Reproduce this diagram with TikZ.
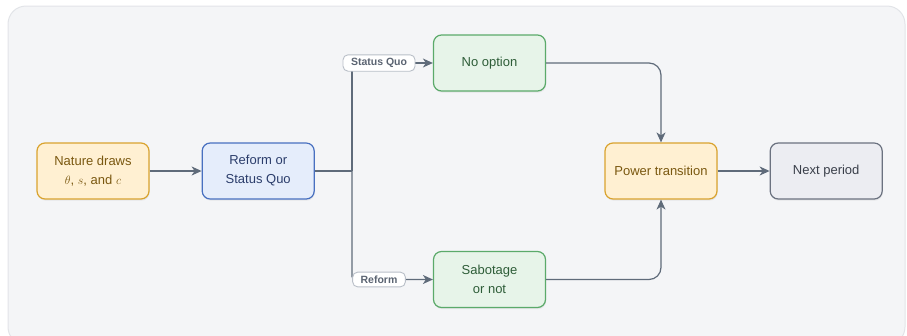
\documentclass[tikz,border=0pt]{standalone}
\usepackage{fontspec}
\setmainfont{Liberation Sans}
\usepackage{tikz}
\usetikzlibrary{arrows.meta}
\usetikzlibrary{positioning}
\usetikzlibrary{shadows}

\definecolor{panelbg}{HTML}{F4F5F7}
\definecolor{panelline}{HTML}{E2E4E8}
\definecolor{edgecol}{HTML}{5F6B7A}
\definecolor{ambfill}{HTML}{FFF0D2}
\definecolor{ambline}{HTML}{D9A32E}
\definecolor{ambtext}{HTML}{7A5810}
\definecolor{bluefill}{HTML}{E5EDFB}
\definecolor{blueline}{HTML}{4870C0}
\definecolor{bluetext}{HTML}{2B3D6B}
\definecolor{grnfill}{HTML}{E7F4E9}
\definecolor{grnline}{HTML}{5BAA6A}
\definecolor{grntext}{HTML}{2E5D38}
\definecolor{grayfill}{HTML}{ECEDF2}
\definecolor{grayline}{HTML}{6B7280}
\definecolor{graytext}{HTML}{3A3F4A}
\definecolor{tagline}{HTML}{B9BFC8}
\definecolor{tagtext}{HTML}{5B6472}

\tikzset{
  box/.style={draw, rounded corners=8pt, line width=1.2pt, minimum width=112pt,
    minimum height=56pt, align=center, font=\fontsize{13}{19}\selectfont,
    drop shadow={opacity=0.12, shadow xshift=0.6pt, shadow yshift=-1.6pt}},
  ambbox/.style={box, fill=ambfill, draw=ambline, text=ambtext},
  bluebox/.style={box, fill=bluefill, draw=blueline, text=bluetext},
  grnbox/.style={box, fill=grnfill, draw=grnline, text=grntext},
  graybox/.style={box, fill=grayfill, draw=grayline, text=graytext},
  tag/.style={draw=tagline, fill=white, rounded corners=5pt, line width=0.9pt,
    text=tagtext, font=\fontsize{10.5}{12}\selectfont\bfseries,
    inner xsep=8pt, inner ysep=3.5pt},
  flow/.style={draw=edgecol, line width=1.2pt, rounded corners=12pt,
    -{Stealth[length=10pt, width=9pt, inset=3pt]}}
}

\begin{document}
\begin{tikzpicture}[x=1pt, y=1pt]

\useasboundingbox (0,0) rectangle (907,-335);
\draw[fill=panelbg, draw=panelline, line width=1pt, rounded corners=18pt] (8,-6) rectangle (905,-345);

\node[ambbox] (nature) at (93,-171) {Nature draws\\$\theta$, $s$, and $c$};
\node[bluebox, right = 52pt of nature] (choice) {Reform or\\Status Quo};
\node[grnbox] (noopt) at (489.5,-63) {No option};
\node[grnbox] (sabot) at (489.5,-279.5) {Sabotage\\or not};
\node[ambbox] (power) at (661,-171) {Power transition};
\node[graybox, right = 52pt of power] (next) {Next period};

\coordinate (split) at (352,-171);

\draw[flow] (nature) -- (choice);
\draw[draw=edgecol, line width=1.2pt] (choice) -- (split);
\draw[flow, rounded corners=0pt] (split) |- node[tag, pos=0.667] (sq) {Status Quo} (noopt);
\draw[flow, rounded corners=3pt] (split) |- node[tag, pos=0.667] (rf) {Reform} (sabot);
\draw[flow] (noopt) -| (power);
\draw[flow] (sabot) -| (power);
\draw[flow] (power) -- (next);

\end{tikzpicture}
\end{document}
